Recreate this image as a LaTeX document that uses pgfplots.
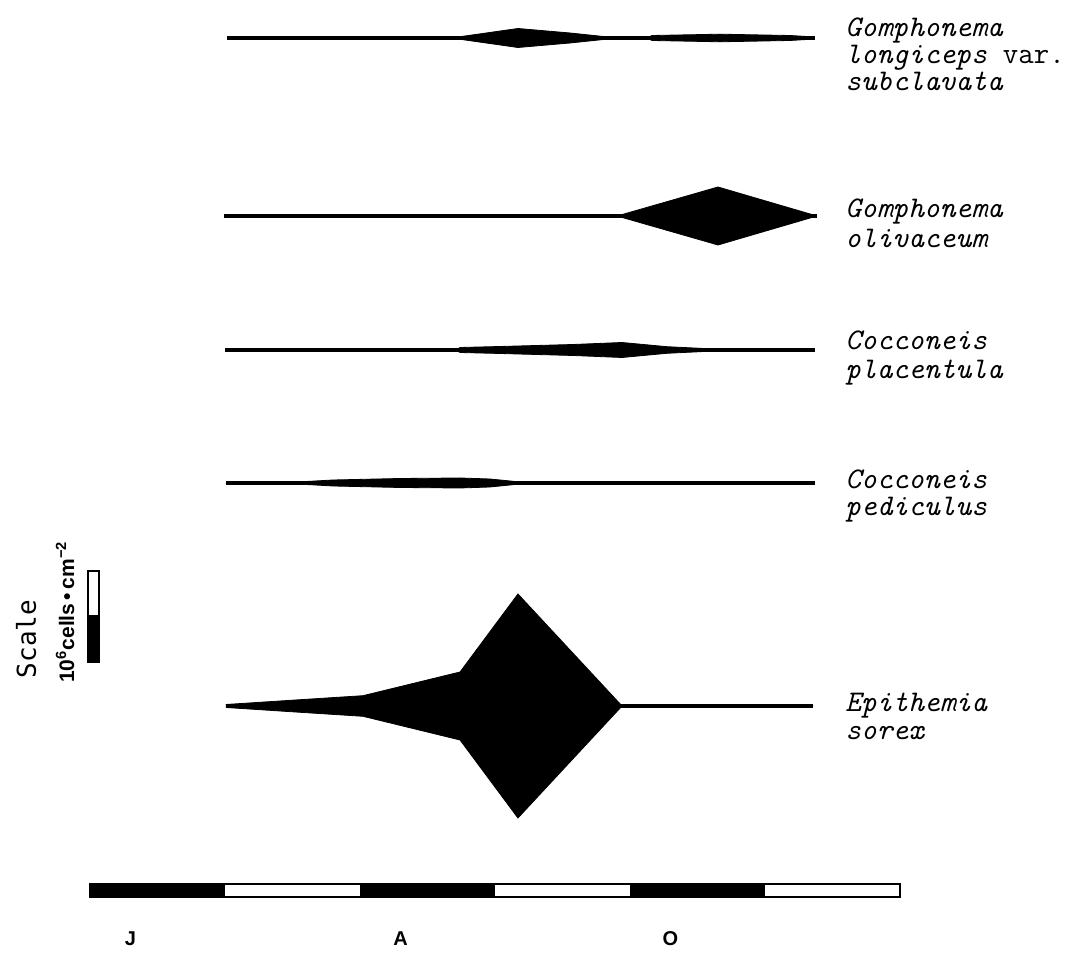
\documentclass[border=0pt]{standalone}
\usepackage{fontspec}
\usepackage{pgfplots}
\usepackage{pgfplotstable}
\pgfplotsset{compat=1.18}
\usepgfplotslibrary{fillbetween}
\newfontfamily\gothic{DejaVu Sans Mono}
\newfontfamily\lsans{Liberation Sans}
\newcommand\lab{\fontsize{15}{14}\selectfont\ttfamily\itshape}

% m = months since 1 June, w = half-width of the kite (abundance, plot units)
\pgfplotstableread{
m w
1.015 0
2.667 0
2.726 1
3.170 9.5
3.556 5
3.874 0.5
4.133 0.5
4.163 2.5
4.667 3.8
5.185 2.5
5.370 1
}\gomlong
\pgfplotstableread{
m w
0.993 0
3.904 0
4.652 29
5.385 0
}\gomoli
\pgfplotstableread{
m w
1.000 0
2.711 0
2.741 2.5
3.037 3.5
3.578 5.5
3.941 7.5
4.274 3.3
4.519 1.7
4.667 0.5
5.370 0
}\cocpla
\pgfplotstableread{
m w
1.007 0
1.407 0
1.800 3
2.296 4.5
2.741 5
2.963 4
3.185 1
3.333 0
4.963 0
5.074 1.5
5.370 1.5
}\cocped
\pgfplotstableread{
m w
1.007 1.5
1.556 6.3
2.022 10.3
2.741 34
3.170 112
3.941 0
5.356 0
}\episor

\newcommand\kite[3]{%
  \addplot[black, line width=1.8pt] table[x=m, y expr=#2] {#1};
  \addplot[black, line width=0.4pt, name path=u#3] table[x=m, y expr=#2-\thisrow{w}] {#1};
  \addplot[black, line width=0.4pt, name path=l#3] table[x=m, y expr=#2+\thisrow{w}] {#1};
  \addplot[black] fill between[of=u#3 and l#3];
}

\begin{document}
\begin{tikzpicture}
\begin{axis}[
  scale only axis, width=537pt, height=477pt,
  xmin=-0.66667, xmax=7.28889, ymin=0, ymax=954, y dir=reverse,
  hide axis, clip=false]
\path (rel axis cs:0,0) rectangle (rel axis cs:1,1);

\kite{\gomlong}{38}{a}
\kite{\gomoli}{216}{b}
\kite{\cocpla}{350}{c}
\kite{\cocped}{483}{d}
\kite{\episor}{706}{e}

% species labels
\node[anchor=base west, inner sep=0pt, font=\lab] at (axis cs:5.593,37) {Gomphonema};
\node[anchor=base west, inner sep=0pt, font=\lab] at (axis cs:5.593,64) {longiceps {\upshape var.}};
\node[anchor=base west, inner sep=0pt, font=\lab] at (axis cs:5.593,91) {subclavata};
\node[anchor=base west, inner sep=0pt, font=\lab] at (axis cs:5.593,218) {Gomphonema};
\node[anchor=base west, inner sep=0pt, font=\lab] at (axis cs:5.593,248) {olivaceum};
\node[anchor=base west, inner sep=0pt, font=\lab] at (axis cs:5.593,350) {Cocconeis};
\node[anchor=base west, inner sep=0pt, font=\lab] at (axis cs:5.593,379) {placentula};
\node[anchor=base west, inner sep=0pt, font=\lab] at (axis cs:5.593,489) {Cocconeis};
\node[anchor=base west, inner sep=0pt, font=\lab] at (axis cs:5.593,516) {pediculus};
\node[anchor=base west, inner sep=0pt, font=\lab] at (axis cs:5.593,712) {Epithemia};
\node[anchor=base west, inner sep=0pt, font=\lab] at (axis cs:5.593,740) {sorex};

% time bar
\draw[black, line width=1.4pt, fill=white] (axis cs:0,884) rectangle (axis cs:6,897);
\fill[black] (axis cs:0,884) rectangle (axis cs:1,897);
\fill[black] (axis cs:2,884) rectangle (axis cs:3,897);
\fill[black] (axis cs:4,884) rectangle (axis cs:5,897);
\node[anchor=base, inner sep=0pt, font=\lsans\bfseries\fontsize{10}{11}\selectfont] at (axis cs:0.30,946) {J};
\node[anchor=base, inner sep=0pt, font=\lsans\bfseries\fontsize{10}{11}\selectfont] at (axis cs:2.30,946) {A};
\node[anchor=base, inner sep=0pt, font=\lsans\bfseries\fontsize{10}{11}\selectfont] at (axis cs:4.30,946) {O};

% scale
\node[rotate=90, inner sep=0pt, font=\gothic\fontsize{13}{14}\selectfont] at (axis cs:-0.474,639) {Scale};
\node[rotate=90, inner sep=0pt, font=\lsans\bfseries\fontsize{10.5}{12}\selectfont] at (axis cs:-0.185,612) {10\textsuperscript{6}cells\,•\,cm\textsuperscript{−2}};
\draw[black, line width=1pt, fill=white] (axis cs:-0.0148,571) rectangle (axis cs:0.0667,662);
\fill[black] (axis cs:-0.0148,615) rectangle (axis cs:0.0667,662);
\end{axis}
\end{tikzpicture}
\end{document}
